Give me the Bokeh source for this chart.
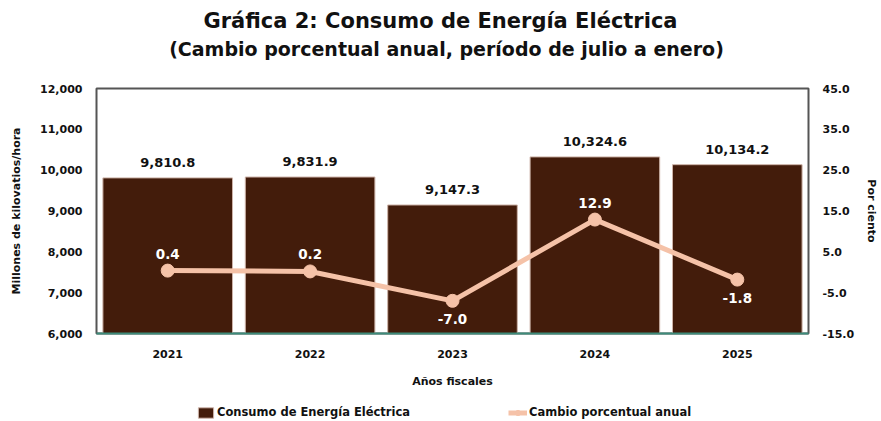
from bokeh.plotting import figure
from bokeh.layouts import column
from bokeh.models import (ColumnDataSource, Range1d, FactorRange, LinearAxis,
                          FixedTicker, NumeralTickFormatter, Legend, LegendItem, Label)
from bokeh.core.properties import value
from bokeh.embed import file_html
from bokeh.resources import INLINE

years = ["2021", "2022", "2023", "2024", "2025"]
consumo = [9810.8, 9831.9, 9147.3, 10324.6, 10134.2]
cambio = [0.4, 0.2, -7.0, 12.9, -1.8]
left_ticks = [6000, 7000, 8000, 9000, 10000, 11000, 12000]
right_ticks = [-15, -5, 5, 15, 25, 35, 45]
title_text = "Gráfica 2: Consumo de Energía Eléctrica"
subtitle_text = "(Cambio porcentual anual, período de julio a enero)"
legend_labels = ["Consumo de Energía Eléctrica", "Cambio porcentual anual"]

FONT = "DejaVu Sans"
BAR = "#431c0b"
BAR_EDGE = "#cdb3a8"
LINE = "#f5c2a8"
TXT = "#111111"
W = 881


def strip(height):
    f = figure(width=W, height=height, x_range=Range1d(0, 1), y_range=Range1d(0, 1),
               output_backend="svg", toolbar_location=None, min_border=0,
               min_border_left=0, min_border_right=0, min_border_top=0, min_border_bottom=0,
               x_axis_type=None, y_axis_type=None)
    f.outline_line_color = None
    f.xgrid.grid_line_color = None
    f.ygrid.grid_line_color = None
    return f


# ---- title strip (its frame is aligned with the chart's frame by the column layout)
tf = strip(70)
tf.add_layout(Label(x=344, y=50, x_units="screen", y_units="screen", text=title_text,
                    text_align="center", text_baseline="middle", text_font=FONT,
                    text_font_size="21px", text_font_style="bold", text_color=TXT))
tf.add_layout(Label(x=350, y=22, x_units="screen", y_units="screen", text=subtitle_text,
                    text_align="center", text_baseline="middle", text_font=FONT,
                    text_font_size="19px", text_font_style="bold", text_color=TXT))

# ---- main chart
consumo_lbl = [f"{v:,.1f}" for v in consumo]
cambio_lbl = [f"{v:.1f}" for v in cambio]
src = ColumnDataSource(dict(year=years, consumo=consumo, cambio=cambio,
                            consumo_lbl=consumo_lbl, cambio_lbl=cambio_lbl))
up_idx = [i for i, v in enumerate(cambio) if v >= 0]
dn_idx = [i for i, v in enumerate(cambio) if v < 0]
src_up = ColumnDataSource(dict(year=[years[i] for i in up_idx], cambio=[cambio[i] for i in up_idx],
                               lbl=[cambio_lbl[i] for i in up_idx]))
src_dn = ColumnDataSource(dict(year=[years[i] for i in dn_idx], cambio=[cambio[i] for i in dn_idx],
                               lbl=[cambio_lbl[i] for i in dn_idx]))

p = figure(width=W, height=330, x_range=FactorRange(factors=years, range_padding=0),
           y_range=Range1d(6000, 12000), output_backend="svg", toolbar_location=None,
           min_border_left=96, min_border_right=70, min_border_top=18, min_border_bottom=67)
p.extra_y_ranges = {"pct": Range1d(-15, 45)}

bars = p.vbar(x="year", top="consumo", bottom=6000, width=0.91, source=src,
              fill_color=BAR, line_color=BAR_EDGE, line_width=1)
p.text(x="year", y="consumo", text="consumo_lbl", source=src, text_align="center",
       text_baseline="bottom", y_offset=-11, text_font=value(FONT), text_font_size="13px",
       text_font_style="bold", text_color=TXT)

ln = p.line(x="year", y="cambio", source=src, y_range_name="pct", line_color=LINE, line_width=5)
pts = p.scatter(x="year", y="cambio", source=src, y_range_name="pct", size=13,
                fill_color=LINE, line_color=LINE)
p.text(x="year", y="cambio", text="lbl", source=src_up, y_range_name="pct", text_align="center",
       text_baseline="bottom", y_offset=-12, text_font=value(FONT), text_font_size="13.5px",
       text_font_style="bold", text_color="white")
p.text(x="year", y="cambio", text="lbl", source=src_dn, y_range_name="pct", text_align="center",
       text_baseline="top", y_offset=13, text_font=value(FONT), text_font_size="13.5px",
       text_font_style="bold", text_color="white")

p.xgrid.grid_line_color = None
p.ygrid.grid_line_color = None
p.outline_line_color = "#555555"
p.outline_line_width = 2
p.background_fill_color = "white"
p.border_fill_color = "white"

ya = p.yaxis[0]
ya.ticker = FixedTicker(ticks=left_ticks)
ya.formatter = NumeralTickFormatter(format="0,0")
ya.axis_label = "Millones de kilovatios/hora"
ya.axis_label_standoff = 14

ra = LinearAxis(y_range_name="pct", ticker=FixedTicker(ticks=right_ticks),
                formatter=NumeralTickFormatter(format="0.0"), axis_label="Por ciento",
                axis_label_standoff=8)
p.add_layout(ra, "right")

xa = p.xaxis[0]
xa.axis_label = "Años fiscales"
xa.axis_line_color = "#3d8b7a"
xa.axis_line_width = 2
xa.major_label_standoff = 16
xa.axis_label_standoff = 14

for ax in (ya, ra, xa):
    if ax is not xa:
        ax.axis_line_color = None
        ax.major_label_standoff = 14
    ax.major_tick_line_color = None
    ax.minor_tick_line_color = None
    ax.major_tick_out = 0
    ax.major_tick_in = 0
    ax.minor_tick_out = 0
    ax.minor_tick_in = 0
    ax.major_label_text_font = FONT
    ax.major_label_text_font_size = "11px"
    ax.major_label_text_font_style = "bold"
    ax.major_label_text_color = TXT
    ax.axis_label_text_font = FONT
    ax.axis_label_text_font_size = "11px"
    ax.axis_label_text_font_style = "bold"
    ax.axis_label_text_color = TXT

# ---- legend strip
lg = strip(21)
d_bar = lg.vbar(x=[-5], top=[-5], bottom=[-6], width=0.5, fill_color=BAR,
                line_color=BAR_EDGE, line_width=1)
d_ln = lg.line(x=[-5, -4], y=[-5, -5], line_color=LINE, line_width=5)
d_pt = lg.scatter(x=[-5], y=[-5], size=12, fill_color=LINE, line_color=LINE)
legend = Legend(items=[LegendItem(label=legend_labels[0], renderers=[d_bar]),
                       LegendItem(label=legend_labels[1], renderers=[d_ln, d_pt])],
                orientation="horizontal", location=(100, 2), border_line_color=None,
                background_fill_alpha=0, label_text_font=FONT, label_text_font_size="11.5px",
                label_text_font_style="bold", label_text_color=TXT,
                glyph_width=19, glyph_height=13, label_standoff=2, spacing=98,
                padding=3, margin=0)
lg.add_layout(legend, "center")

open("out.html", "w").write(file_html(column(tf, p, lg, spacing=0), INLINE))
